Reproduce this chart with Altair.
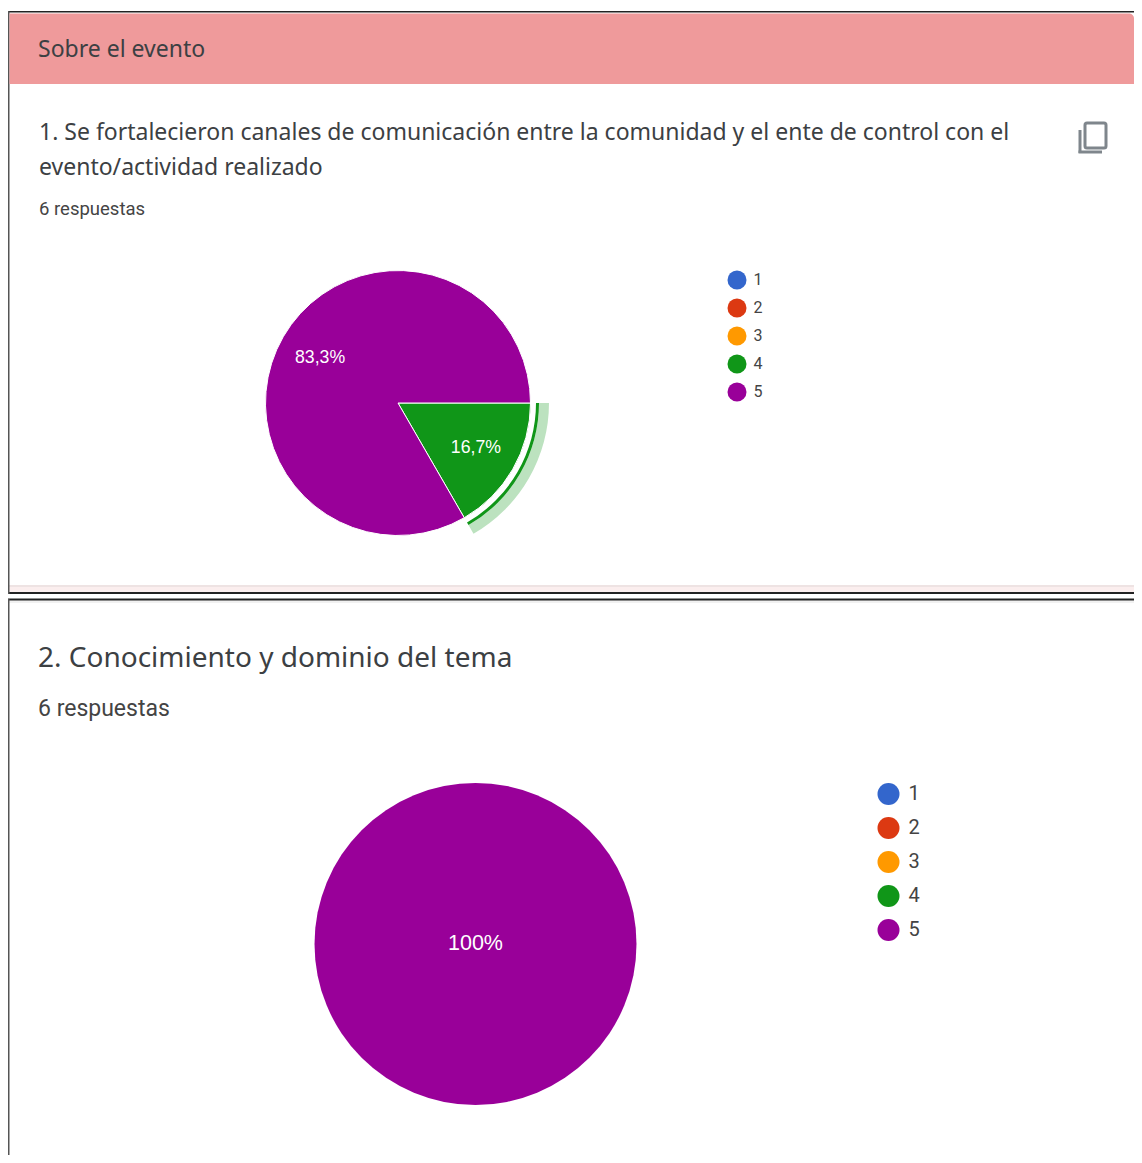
import math
import altair as alt
import pandas as pd

opciones = ["1", "2", "3", "4", "5"]
colores = ["#3366cc", "#dc3912", "#ff9900", "#109618", "#990099"]
votos_p1 = [0, 0, 0, 1, 5]
etiquetas_p1 = ["", "", "", "16,7%", "83,3%"]
votos_p2 = [0, 0, 0, 0, 6]
etiquetas_p2 = ["", "", "", "", "100%"]

seccion = "Sobre el evento"
pregunta1 = ["1. Se fortalecieron canales de comunicación entre la comunidad y el ente de control con el",
             "evento/actividad realizado"]
pregunta2 = "2. Conocimiento y dominio del tema"
respuestas = "6 respuestas"

OX = 8
OY = 8
RIGHT = 1134
BOTTOM = 1155
def X(v): return alt.value(v - OX)
def Y(v): return alt.value(v - OY)

one = alt.Data(values=[{"a": 1}])

def box(x0, x1, y0, y1, **kw):
    return alt.Chart(one).mark_rect(**kw).encode(x=X(x0), x2=X(x1), y=Y(y0), y2=Y(y1))

def label(text, x, y, size, font="Noto Sans", color="#3c4043", **kw):
    return alt.Chart(alt.Data(values=[{"t": text}])).mark_text(
        align="left", baseline="middle", fontSize=size, font=font, color=color, **kw
    ).encode(x=X(x), y=Y(y), text="t:N")

rango = [math.pi / 2, math.pi / 2 + 2 * math.pi]
df1 = pd.DataFrame({"opcion": opciones, "votos": votos_p1, "etq": etiquetas_p1})
df2 = pd.DataFrame({"opcion": opciones, "votos": votos_p2, "etq": etiquetas_p2})

theta = alt.Theta("votos:Q", stack=True, scale=alt.Scale(range=rango))
orden = alt.Order("opcion:N")

def color(lx, ly, sym, fs, pad, off):
    return alt.Color(
        "opcion:N",
        scale=alt.Scale(domain=opciones, range=colores),
        legend=alt.Legend(
            title=None, orient="none", legendX=lx - OX, legendY=ly - OY,
            symbolType="circle", symbolSize=sym, symbolStrokeWidth=0, symbolOpacity=1,
            labelFont="Roboto", labelFontSize=fs, labelColor="#444444",
            rowPadding=pad, labelOffset=off, padding=0,
        ),
    )

C1 = (398, 403)
C2 = (475.5, 944)

pie1 = alt.Chart(df1).mark_arc(outerRadius=132.5, stroke="white", strokeWidth=1).encode(
    theta=theta, order=orden, x=X(C1[0]), y=Y(C1[1]),
    color=color(727.5, 270.5, 361, 16, 9, 7),
)
sel = alt.condition("datum.opcion == '4'", alt.value(1), alt.value(0))
sel_light = alt.condition("datum.opcion == '4'", alt.value(0.28), alt.value(0))
ring_dark = alt.Chart(df1).mark_arc(innerRadius=138, outerRadius=141, fill="#109618").encode(
    theta=theta, order=orden, detail="opcion:N", x=X(C1[0]), y=Y(C1[1]), opacity=sel)
ring_light = alt.Chart(df1).mark_arc(innerRadius=141, outerRadius=151, fill="#109618").encode(
    theta=theta, order=orden, detail="opcion:N", x=X(C1[0]), y=Y(C1[1]), opacity=sel_light)
text1 = alt.Chart(df1).mark_text(radius=90, color="white", font="Liberation Sans", fontSize=17.7).encode(
    theta=theta, order=orden, detail="opcion:N", x=X(C1[0]), y=Y(C1[1]), text="etq:N")

pie2 = alt.Chart(df2).mark_arc(outerRadius=161).encode(
    theta=theta, order=orden, x=X(C2[0]), y=Y(C2[1]),
    color=color(877.5, 783, 484, 20, 12, 9),
)
text2 = alt.Chart(df2).mark_text(radius=0, color="white", font="Liberation Sans", fontSize=21.5).encode(
    theta=theta, order=orden, detail="opcion:N", x=X(C2[0]), y=Y(C2[1]), text="etq:N")

capas = [
    box(8, RIGHT, 585, 592, fill="#fbeeee"),
    box(8, RIGHT, 585, 587, fill="#eee3e3"),
    box(8, RIGHT, 599, 603, fill="#f1f1f1"),
    box(8, RIGHT, 11, 12.5, fill="#222222"),
    box(8, RIGHT, 592, 594, fill="#222222"),
    box(8, RIGHT, 598.5, 600.5, fill="#222222"),
    box(8, 9.5, 11, 594, fill="#555555"),
    box(8, 9.5, 599, BOTTOM, fill="#555555"),
    box(9.5, RIGHT, 13.5, 84, fill="#ef9a9b", cornerRadiusTopRight=5),
    label(seccion, 38, 50, 23),
    label(pregunta1[0], 39, 133, 23),
    label(pregunta1[1], 39, 168, 23),
    label(respuestas, 39, 208.5, 18.5, font="Roboto", color="#444444"),
    label(pregunta2, 38, 659, 28),
    label(respuestas, 38, 709, 23, font="Roboto", color="#444444"),
    box(1085, 1106, 123, 148, fill="white", stroke="#7f868c", strokeWidth=3, cornerRadius=2),
    box(1078.5, 1081.5, 130, 153, fill="#7f868c"),
    box(1078.5, 1102, 150.5, 153.5, fill="#7f868c"),
    pie1, ring_dark, ring_light, text1, pie2, text2,
]

chart = alt.layer(*capas).resolve_scale(color="independent", theta="independent").properties(
    width=RIGHT - OX, height=BOTTOM - OY, padding=0, autosize=alt.AutoSizeParams(type="none"), background="white",
).configure_view(stroke=None)

chart.save("out.html", embed_options={"renderer": "svg", "actions": False})
